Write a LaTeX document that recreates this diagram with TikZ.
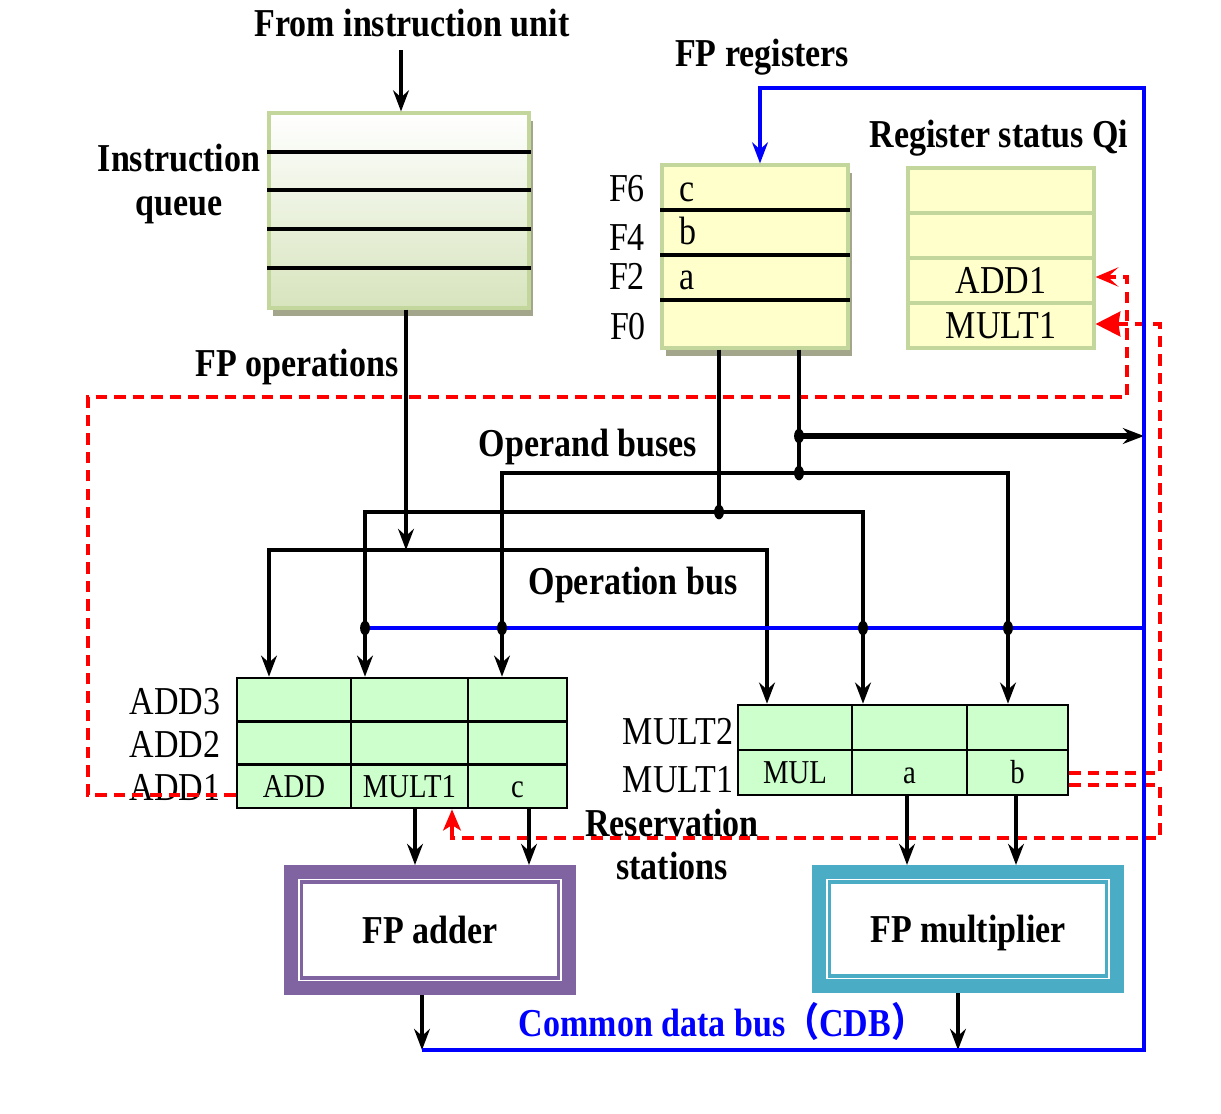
\documentclass[tikz,border=0pt]{standalone}
\usepackage{fontspec}
\setmainfont{Liberation Serif}[FakeStretch=0.86]
\newfontfamily\cjkfont{Noto Sans CJK SC}[FakeStretch=0.86]
\usepackage{tikz}
\usepackage{xcolor}
\usetikzlibrary{arrows.meta,shadows}

\definecolor{qgreen}{HTML}{C3D69B}
\definecolor{qbottom}{HTML}{D7E4BD}
\definecolor{shadowgray}{HTML}{A3A68B}
\definecolor{regyellow}{HTML}{FFFFCC}
\definecolor{rsgreen}{HTML}{CCFFCC}
\definecolor{adderc}{HTML}{8064A2}
\definecolor{multc}{HTML}{4BACC6}
\definecolor{cdbblue}{HTML}{0000FF}

\begin{document}
\begin{tikzpicture}[
    x=0.02cm, y=-0.02cm,
    title/.style={font=\fontsize{22.5}{24.5}\selectfont\bfseries, inner sep=0pt},
    lbl/.style={font=\fontsize{22.5}{24.5}\selectfont, inner sep=0pt},
    queuebox/.style={rectangle, draw=qgreen, line width=1.8pt, top color=white, bottom color=qbottom, minimum width=5.2cm, minimum height=3.9cm, drop shadow={shadow xshift=2.3pt, shadow yshift=-4.5pt, fill=shadowgray, opacity=1}},
    regbox/.style={rectangle, draw=qgreen, line width=1.8pt, fill=regyellow, minimum width=3.72cm, minimum height=3.66cm, drop shadow={shadow xshift=2.3pt, shadow yshift=-4.5pt, fill=shadowgray, opacity=1}},
    qicell/.style={rectangle, draw=qgreen, line width=1.8pt, fill=regyellow, minimum width=3.72cm, minimum height=0.9cm, font=\fontsize{22.5}{24.5}\selectfont},
    rscell/.style={rectangle, draw=black, line width=1.5pt, fill=rsgreen, inner sep=0pt, text height=12.6pt, text depth=0pt, font=\fontsize{19}{22}\selectfont},
    fuframe/.style={rectangle, draw=#1, line width=8pt, fill=white},
    fubox/.style={rectangle, draw=#1, line width=1.8pt, fill=white, text height=15pt, text depth=0pt, font=\fontsize{22.5}{24.5}\selectfont\bfseries},
    qline/.style={line width=2pt},
    bus/.style={line width=2.1pt},
    arrow/.style={-{Stealth[length=12pt, width=9pt, inset=4pt]}, line width=2.1pt},
    twoway/.style={{Stealth[length=12pt, width=9pt, inset=4pt]}-{Stealth[length=12pt, width=9pt, inset=4pt]}, line width=2.1pt},
    cdb/.style={draw=cdbblue, line width=2pt},
    ctrl/.style={draw=red, line width=2.2pt, dash pattern=on 6.5pt off 4pt},
    ctrltip/.style={draw=red, fill=red, line width=2.2pt, solid}
]
\useasboundingbox (0,0) rectangle (1221,1114);

% headings
\node[title, anchor=base] (fromlbl) at (412,37) {From instruction unit};
\node[title, anchor=base] (reglbl) at (762,67) {FP registers};
\node[title, anchor=base] (qilbl) at (999,148) {Register status Qi};
\node[title, align=center] (queuelbl) at (179,184) {Instruction\\queue};
\node[title, anchor=base] (oplbl) at (297,377) {FP operations};
\node[title, anchor=base] (operandlbl) at (588,457) {Operand buses};
\node[title, anchor=base] (opbuslbl) at (633,595) {Operation bus};
\node[title, align=center] (rslbl) at (672,844) {Reservation\\stations};
\node[title, anchor=base, text=cdbblue] (cdblbl) at (722,1036) {Common data bus{\cjkfont （}CDB{\cjkfont ）}};

% instruction queue and registers
\node[queuebox] (queue) at (399,210.5) {};
\foreach \y in {152,190,229,268}
    \draw[qline] (queue.west |- 0,\y) -- (queue.east |- 0,\y);

\node[regbox] (regs) at (755,256.5) {};
\foreach \y in {210,255,300}
    \draw[qline] (regs.west |- 0,\y) -- (regs.east |- 0,\y);
\node[lbl, anchor=base west] (vc) at (679,202) {c};
\node[lbl, anchor=base west] (vb) at (679,245) {b};
\node[lbl, anchor=base west] (va) at (679,290) {a};
\node[lbl, anchor=base] (f6) at (627,202) {F6};
\node[lbl, anchor=base] (f4) at (627,251) {F4};
\node[lbl, anchor=base] (f2) at (627,290) {F2};
\node[lbl, anchor=base] (f0) at (628,340) {F0};

\node[qicell] (qi1) at (1001,190.5) {};
\node[qicell] (qi2) at (1001,235.5) {};
\node[qicell] (qi3) at (1001,280.5) {ADD1};
\node[qicell] (qi4) at (1001,325.5) {MULT1};

% reservation stations
\foreach \r/\y/\op/\qj/\vk in {3/699.7/{}/{}/{}, 2/743/{}/{}/{}, 1/786.3/ADD/MULT1/c} {
    \node[rscell, minimum width=2.28cm, minimum height=0.867cm] (addA\r) at (294,\y) {\op};
    \node[rscell, minimum width=2.34cm, minimum height=0.867cm] (addB\r) at (409.5,\y) {\qj};
    \node[rscell, minimum width=1.98cm, minimum height=0.867cm] (addC\r) at (517.5,\y) {\vk};
}
\foreach \r/\y/\op/\qj/\vk in {2/727.5/{}/{}/{}, 1/772.5/MUL/a/b} {
    \node[rscell, minimum width=2.28cm, minimum height=0.9cm] (mulA\r) at (795,\y) {\op};
    \node[rscell, minimum width=2.3cm, minimum height=0.9cm] (mulB\r) at (909.5,\y) {\qj};
    \node[rscell, minimum width=2.02cm, minimum height=0.9cm] (mulC\r) at (1017.5,\y) {\vk};
}
\node[lbl, anchor=base] (add3lbl) at (175,715) {ADD3};
\node[lbl, anchor=base] (add2lbl) at (175,757) {ADD2};
\node[lbl, anchor=base] (add1lbl) at (175,800) {ADD1};
\node[lbl, anchor=base] (mul2lbl) at (678,745) {MULT2};
\node[lbl, anchor=base] (mul1lbl) at (678,792) {MULT1};

% functional units
\node[fuframe=adderc, minimum width=5.56cm, minimum height=2.32cm] (adderbox) at (430,930) {};
\node[fubox=adderc, minimum width=5.14cm, minimum height=1.92cm] (adder) at (430,930) {FP adder};
\node[fuframe=multc, minimum width=5.96cm, minimum height=2.28cm] (multbox) at (968,929) {};
\node[fubox=multc, minimum width=5.54cm, minimum height=1.88cm] (mult) at (968,929) {FP multiplier};

% bus corners
\coordinate (fromiu) at (401,50);
\coordinate (opin) at (406,550);
\coordinate (opL) at (269,550);
\coordinate (opR) at (767,550);
\coordinate (obAL) at (365,512);
\coordinate (obAR) at (863,512);
\coordinate (obAtap) at (719,512);
\coordinate (obBL) at (502,473);
\coordinate (obBR) at (1008,473);
\coordinate (obBtap) at (799,473);
\coordinate (fwd) at (799,436);
\coordinate (fwdend) at (1144,436);
\coordinate (cdbL) at (422,1050);
\coordinate (cdbM) at (958,1050);
\coordinate (cdbR) at (1144,1050);
\coordinate (cdbT) at (1144,88);
\coordinate (cdbreg) at (760,88);
\coordinate (cdbrs) at (1144,628);
\coordinate (cdbrsL) at (365,628);

% control paths (tags)
\draw[ctrl] (addA1.west |- 0,795) -- (88,795) -- (88,397) -- (1127,397) -- (1127,277) -- (1112,277);
\draw[ctrltip, -{Stealth[length=13pt, width=11pt, inset=6pt]}] (1116,277) -- (qi3.east |- 0,277);
\draw[ctrl] (mulC1.east |- 0,773) -- (1160,773) -- (1160,324) -- (1118,324);
\draw[ctrltip, -{Stealth[length=14pt, width=14pt, inset=1pt]}] (1124,324) -- (qi4.east |- 0,324);
\draw[ctrl] (mulC1.east |- 0,785) -- (1160,785) -- (1160,838) -- (452,838) -- (452,826);
\draw[ctrltip, -{Stealth[length=12pt, width=10pt, inset=3pt]}] (452,832) -- (452,0 |- addB1.south);

% black buses
\draw[arrow] (fromiu) -- (fromiu |- queue.north);
\draw[arrow] (queue.south -| opin) -- (opin);
\draw[twoway] (opL |- addA3.north) -- (opL) -- (opR) -- (opR |- mulA2.north);
\draw[twoway] (obAL |- addB3.north) -- (obAL) -- (obAR) -- (obAR |- mulB2.north);
\draw[twoway] (obBL |- addC3.north) -- (obBL) -- (obBR) -- (obBR |- mulC2.north);
\draw[bus] (regs.south -| obAtap) -- (obAtap);
\draw[bus] (regs.south -| obBtap) -- (obBtap);
\draw[arrow, line width=3.4pt] (fwd) -- (fwdend);

\draw[arrow] (415,0 |- addB1.south) -- (415,0 |- adderbox.north);
\draw[arrow] (529,0 |- addC1.south) -- (529,0 |- adderbox.north);
\draw[arrow] (907,0 |- mulB1.south) -- (907,0 |- multbox.north);
\draw[arrow] (1016,0 |- mulC1.south) -- (1016,0 |- multbox.north);
\draw[arrow] (adderbox.south -| cdbL) -- (cdbL);
\draw[arrow] (multbox.south -| cdbM) -- (cdbM);

% common data bus
\draw[cdb, -{Stealth[length=12pt, width=9pt, inset=4pt]}] (cdbL) -- (cdbR) -- (cdbT) -- (cdbreg) -- (cdbreg |- regs.north);
\draw[cdb] (cdbrs) -- (cdbrsL);

\foreach \p in {{365,628},{502,628},{863,628},{1008,628},{719,512},{799,473},{799,436}}
    \fill (\p) ellipse [x radius=2.8pt, y radius=4.2pt];
\end{tikzpicture}
\end{document}
